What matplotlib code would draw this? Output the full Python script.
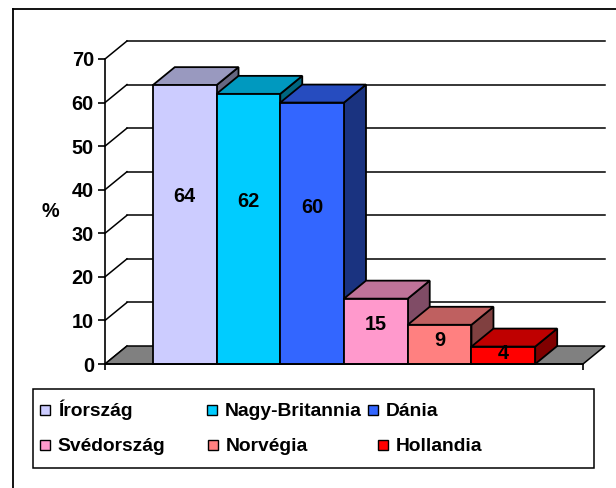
import matplotlib
matplotlib.use('Agg')
import matplotlib.pyplot as plt
from matplotlib.patches import Polygon, Rectangle
from matplotlib.lines import Line2D

# ── Data ─────────────────────────────────────────────────────────────────────
countries = ['Írország', 'Nagy-Britannia', 'Dánia',
             'Svédország', 'Norvégia', 'Hollandia']
values = [64, 62, 60, 15, 9, 4]
y_ticks = [0, 10, 20, 30, 40, 50, 60, 70]

# face colours: front / top / side (Excel-style 3D shading)
FRONT = ['#CCCCFF', '#00CCFF', '#3366FF', '#FF99CC', '#FF8080', '#FF0000']
TOP   = ['#9999BF', '#0099BF', '#264CBF', '#BF7399', '#BF6060', '#BF0000']
SIDE  = ['#666680', '#006680', '#1A3380', '#804C66', '#804040', '#800000']

plt.rcParams['font.family'] = ['Liberation Sans', 'DejaVu Sans']
plt.rcParams['font.weight'] = 'bold'
FS = 14.3
FS_LEG = 13.9

W, H = 616, 488
fig = plt.figure(figsize=(W / 100, H / 100), dpi=100)
fig.patch.set_facecolor('white')

# plot area: x in bar units (0..7.5), y in percent (0..70)
ax = fig.add_axes([105 / W, (H - 364) / H, 478 / W, 305 / H])
x_max = 7.5
gap = 0.75
dx, dy = 0.345, 4.13          # oblique depth offset
ax.set_xlim(0, x_max)
ax.set_ylim(0, 70)
ax.set_facecolor('none')

for s in ['top', 'right']:
    ax.spines[s].set_visible(False)
ax.spines['left'].set_linewidth(1.2)
ax.spines['bottom'].set_linewidth(1.2)
ax.spines['left'].set_zorder(10)
ax.spines['bottom'].set_zorder(10)

ax.set_yticks(y_ticks)
ax.set_yticklabels([str(t) for t in y_ticks], fontsize=FS, fontweight='bold')
ax.tick_params(axis='y', direction='out', length=5, width=1.2, pad=3)
ax.set_xticks([0, x_max])
ax.set_xticklabels([])
ax.tick_params(axis='x', direction='out', length=4.5, width=1.2)
ax.set_ylabel('%', fontsize=FS, fontweight='bold', rotation=0,
              labelpad=15, va='center')

lw = 1.1
# back wall gridlines + side wall diagonals
for t in y_ticks:
    ax.plot([0, dx], [t, t + dy], color='black', lw=lw, clip_on=False, zorder=1)
    if t > 0:
        ax.plot([dx, x_max + dx], [t + dy, t + dy], color='black', lw=lw,
                clip_on=False, zorder=1)

# floor
floor = Polygon([(0, 0), (x_max, 0), (x_max + dx, dy), (dx, dy)],
                closed=True, facecolor='#808080', edgecolor='black',
                lw=lw, clip_on=False, zorder=2)
ax.add_patch(floor)

# bars
bw = 1.0
for i, (v, name) in enumerate(zip(values, countries)):
    x0 = gap + i * bw
    x1 = x0 + bw
    side = Polygon([(x1, 0), (x1 + dx, dy), (x1 + dx, v + dy), (x1, v)],
                   closed=True, facecolor=SIDE[i], edgecolor='black',
                   lw=1.3, clip_on=False, zorder=3 + i)
    top = Polygon([(x0, v), (x1, v), (x1 + dx, v + dy), (x0 + dx, v + dy)],
                  closed=True, facecolor=TOP[i], edgecolor='black',
                  lw=1.3, clip_on=False, zorder=3 + i)
    front = Rectangle((x0, 0), bw, v, facecolor=FRONT[i], edgecolor='black',
                      lw=1.3, clip_on=False, zorder=3 + i)
    for p in (side, top, front):
        ax.add_patch(p)
    ax.text(x0 + bw / 2, v * 0.6, str(v), ha='center', va='center',
            fontsize=FS, fontweight='bold', zorder=20)

# chart area border (only left and top edges show in the crop)
fig.add_artist(Line2D([13 / W, 13 / W], [0, 1 - 9 / H], color='black',
                      lw=1.3, transform=fig.transFigure))
fig.add_artist(Line2D([13 / W, 1], [1 - 9 / H, 1 - 9 / H], color='black',
                      lw=1.3, transform=fig.transFigure))

# legend (manual, Excel-style layout)
fig.add_artist(Rectangle((33 / W, 1 - 468 / H), (594 - 33) / W, (468 - 389) / H,
                         transform=fig.transFigure, facecolor='white',
                         edgecolor='black', lw=1.1))
marker_x = [40, 207, 368, 40, 208, 378]
row_y = [410, 410, 410, 445, 445, 445]
for i, name in enumerate(countries):
    mx, my = marker_x[i], row_y[i]
    fig.add_artist(Rectangle((mx / W, 1 - (my + 5) / H), 10 / W, 10 / H,
                             transform=fig.transFigure, facecolor=FRONT[i],
                             edgecolor='black', lw=1.0))
    fig.text((mx + 18) / W, 1 - (my + 6) / H, name, ha='left', va='baseline',
             fontsize=FS_LEG, fontweight='bold')

fig.savefig('out.png', dpi=100)
